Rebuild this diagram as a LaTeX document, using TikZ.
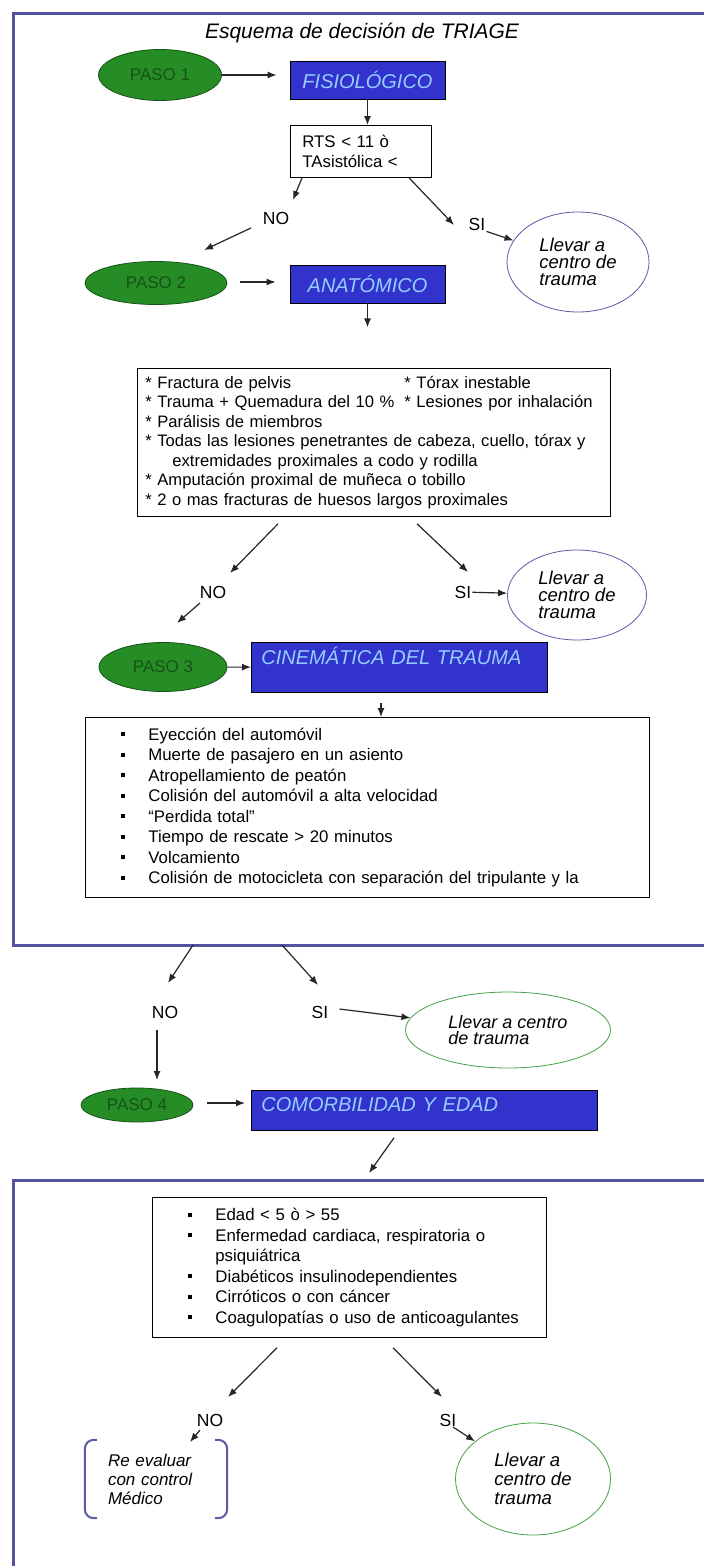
\documentclass[tikz,border=0pt]{standalone}
\usepackage{fontspec}
\setmainfont{Liberation Sans}
\usetikzlibrary{positioning,arrows.meta,calc,shapes.geometric}

\definecolor{frameBlue}{RGB}{82,82,158}
\definecolor{pasoGreen}{RGB}{38,140,38}
\definecolor{pasoDark}{RGB}{22,82,22}
\definecolor{stageBlue}{RGB}{50,50,204}
\definecolor{stageText}{RGB}{150,205,255}
\definecolor{goPurple}{RGB}{90,90,165}
\definecolor{goGreen}{RGB}{70,160,70}

\newcommand{\sqbullet}{\rule[0.22em]{4pt}{4pt}}
\newcommand{\listitem}[1]{\hspace*{36pt}\makebox[27pt][l]{\sqbullet}#1}

\begin{document}
\begin{tikzpicture}[x=1pt,y=-1pt]
  \useasboundingbox (0,0) rectangle (704,1566);
  \fill [white] (0,0) rectangle (704,1566);

  \tikzstyle{paso} = [
    % The shape:
    ellipse, inner sep=0pt,
    % The border:
    thick, draw=pasoDark,
    % The filling:
    fill=pasoGreen,
    % Font:
    text=pasoDark, font=\fontsize{17}{18}\selectfont
  ];
  \tikzstyle{stage} = [
    % The shape:
    rectangle, inner xsep=10pt,
    % The border:
    thick, draw=black,
    % The filling:
    fill=stageBlue,
    % Font:
    text=stageText, font=\fontsize{20}{22}\selectfont\itshape
  ];
  \tikzstyle{criteria} = [
    rectangle, thick, draw=black, fill=white,
    align=left, font=\fontsize{16.8}{20.5}\selectfont
  ];
  \tikzstyle{trauma} = [
    ellipse, inner sep=0pt, thick, fill=white,
    align=left, font=\fontsize{18.5}{17}\selectfont\itshape
  ];
  \tikzstyle{answer} = [
    % Just text!
    inner sep=1pt, font=\fontsize{17.5}{17}\selectfont
  ];
  \tikzstyle{flow} = [
    draw=black!85,
    line width=1.2pt,
    -{Latex[length=9pt,width=7pt]}
  ];
  \tikzstyle{frameLine} = [
    draw=frameBlue,
    line width=3pt
  ];
  \tikzstyle{bracketLine} = [
    draw=goPurple,
    line width=2pt,
    rounded corners=9pt
  ];

  % frames
  \coordinate (frameOneSW) at (13,945);
  \path [frameLine] (704,13) -- (13,13) -- (frameOneSW) -- (704,945);
  \path [frameLine] (704,1180) -- (13,1180) -- (13,1566);

  \node [font=\fontsize{21}{24}\selectfont\itshape] (title) at (362,33) {Esquema de decisión de TRIAGE};

  % step 1
  \node [paso, minimum width=123pt, minimum height=51pt] (paso1) at (160,75) {PASO 1};
  \node [stage, minimum width=155pt, minimum height=38pt] (fisio) at (367.5,80) {FISIOLÓGICO};
  \node [criteria, anchor=north west, inner xsep=12pt, text width=117pt,
         minimum height=52pt, font=\fontsize{16.8}{20}\selectfont] (rts) at (290,125)
        {RTS < 11 ò\\TAsistólica <};
  \node [answer] (no1) at (276,218) {NO};
  \node [answer] (si1) at (477,224) {SI};
  \node [trauma, draw=goPurple, minimum width=142pt, minimum height=100pt] (trauma1) at (578,262)
        {Llevar a\\centro de\\trauma};

  % step 2
  \node [paso, minimum width=142pt, minimum height=43pt] (paso2) at (156,283) {PASO 2};
  \node [stage, minimum width=155pt, minimum height=38pt] (anat) at (367.5,284) {ANATÓMICO};
  \node [criteria, anchor=north west, inner xsep=8pt, text width=457pt,
         minimum height=148pt, font=\fontsize{16.6}{19.5}\selectfont] (anatList) at (137,368)
        {\makebox[259pt][l]{{*} Fractura de pelvis}{*} Tórax inestable\\
         \makebox[259pt][l]{{*} Trauma + Quemadura del 10 \%}{*} Lesiones por inhalación\\
         {*} Parálisis de miembros\\
         \mbox{{*} Todas las lesiones penetrantes de cabeza, cuello, tórax y}\\
         \hspace*{27pt}extremidades proximales a codo y rodilla\\
         {*} Amputación proximal de muñeca o tobillo\\
         {*} 2 o mas fracturas de huesos largos proximales};
  \node [answer] (no2) at (213,592) {NO};
  \node [answer] (si2) at (463,592) {SI};
  \node [trauma, draw=goPurple, minimum width=139pt, minimum height=90pt] (trauma2) at (577,595)
        {Llevar a\\centro de\\trauma};

  % step 3
  \node [paso, minimum width=128pt, minimum height=49pt] (paso3) at (163,667) {PASO 3};
  \node [stage, anchor=north west, text width=276pt, align=left, inner ysep=8pt,
         text height=14pt, text depth=20pt] (cinem) at (251,642) {CINEMÁTICA DEL TRAUMA};
  \node [criteria, anchor=north west, inner xsep=0pt, text width=564pt,
         minimum height=180pt] (cinemList) at (85,717)
        {\listitem{Eyección del automóvil}\\
         \listitem{Muerte de pasajero en un asiento}\\
         \listitem{Atropellamiento de peatón}\\
         \listitem{Colisión del automóvil a alta velocidad}\\
         \listitem{“Perdida total”}\\
         \listitem{Tiempo de rescate > 20 minutos}\\
         \listitem{Volcamiento}\\
         \listitem{Colisión de motocicleta con separación del tripulante y la}};
  \node [answer] (no3) at (165,1012) {NO};
  \node [answer] (si3) at (320,1012) {SI};
  \node [trauma, draw=goGreen, minimum width=205pt, minimum height=76pt,
         font=\fontsize{18}{16}\selectfont\itshape] (trauma3) at (508,1030)
        {Llevar a centro\\de trauma};

  % step 4
  \node [paso, minimum width=112pt, minimum height=34pt] (paso4) at (137,1105) {PASO 4};
  \node [stage, anchor=north west, text width=326pt, align=left, inner ysep=7pt,
         text height=14pt, text depth=12pt] (comorb) at (251,1090) {COMORBILIDAD Y EDAD};
  \node [criteria, anchor=north west, inner xsep=0pt, text width=394pt,
         minimum height=140pt] (comorbList) at (152,1197)
        {\listitem{Edad < 5 ò > 55}\\
         \listitem{Enfermedad cardiaca, respiratoria o}\\
         \hspace*{63pt}psiquiátrica\\
         \listitem{Diabéticos insulinodependientes}\\
         \listitem{Cirróticos o con cáncer}\\
         \listitem{Coagulopatías o uso de anticoagulantes}};
  \node [answer] (no4) at (210,1420) {NO};
  \node [answer] (si4) at (448,1420) {SI};
  \node [rectangle, inner xsep=23pt, text width=96pt, minimum height=78pt, align=left,
         font=\fontsize{17}{19}\selectfont\itshape] (reeval) at (156,1479)
        {Re evaluar\\con control\\Médico};
  \node [trauma, draw=goGreen, minimum width=155pt, minimum height=112pt,
         font=\fontsize{18.5}{19}\selectfont\itshape] (trauma4) at (533,1479)
        {Llevar a\\centro de\\trauma};

  \path [bracketLine] ($(reeval.north west)+(12,0)$) -- (reeval.north west)
                      -- (reeval.south west) -- ($(reeval.south west)+(12,0)$);
  \path [bracketLine] ($(reeval.north east)+(-12,0)$) -- (reeval.north east)
                      -- (reeval.south east) -- ($(reeval.south east)+(-12,0)$);

  % loose ends of the connectors
  \coordinate (noOneTip) at (293,200);
  \coordinate (pasoTwoTip) at (204,250);
  \coordinate (siOneTip) at (454,225);
  \coordinate (noTwoTip) at (230,573);
  \coordinate (siTwoTip) at (468,572);
  \coordinate (pasoThreeTip) at (177,623);
  \coordinate (noThreeTip) at (168,983);
  \coordinate (siThreeTip) at (318,985);
  \coordinate (pasoFourTip) at (157,1080);
  \coordinate (comorbTip) at (369,1173);
  \coordinate (noFourTip) at (228,1397);
  \coordinate (siFourTip) at (442,1397);
  \coordinate (reevalTip) at (190,1442);

  \path [flow] (paso1.east) to ($(paso1.east -| fisio.west)+(-13,0)$);
  \path [flow] (fisio.south) to (fisio.south |- rts.north);
  \path [flow] ($(rts.south west)+(12,0)$) to (noOneTip);
  \path [flow] ($(no1)+(-25,10)$) to (pasoTwoTip);
  \path [flow] ($(rts.south west)+(119,0)$) to (siOneTip);
  \path [flow] (si1.south east) to (trauma1);

  \path [flow] ($(paso2.east)+(13,-1)$) to ($(paso2.east -| anat.west)+(-14,-1)$);
  \path [flow] (anat.south) to ($(anat.south)+(0,24)$);
  \path [flow] ($(anatList.south west)+(141,7)$) to (noTwoTip);
  \path [flow] ($(anatList.south west)+(280,7)$) to (siTwoTip);
  \path [flow] (si2) to (trauma2);
  \path [flow] ($(no2)+(-13,11)$) to (pasoThreeTip);

  \path [flow] (paso3) to (cinem);
  \path [flow] ($(cinemList.north west)+(296,-14)$) to ($(cinemList.north west)+(296,0)$);
  \path [flow] ($(frameOneSW)+(180,0)$) to (noThreeTip);
  \path [flow] ($(frameOneSW)+(269,0)$) to (siThreeTip);
  \path [flow] ($(si3.east)+(10,-3)$) to (trauma3);
  \path [flow] ($(no3)+(-8,18)$) to (pasoFourTip);

  \path [flow] ($(paso4.east)+(14,-2)$) to ($(paso4.east -| comorb.west)+(-6,-2)$);
  \path [flow] ($(comorb.south west)+(143,7)$) to (comorbTip);
  \path [flow] ($(comorbList.south west)+(125,10)$) to (noFourTip);
  \path [flow] ($(comorbList.south west)+(241,10)$) to (siFourTip);
  \path [flow] ($(no4)+(-10,10)$) to (reevalTip);
  \path [flow] ($(si4)+(5,7)$) to (trauma4);
\end{tikzpicture}
\end{document}
